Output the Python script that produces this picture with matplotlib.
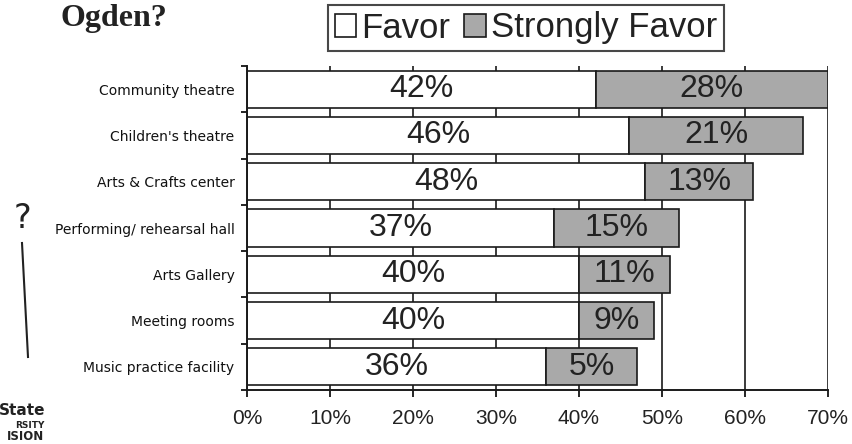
import matplotlib
matplotlib.use("Agg")
import matplotlib.pyplot as plt
from matplotlib.patches import Patch
from matplotlib.lines import Line2D

categories = [
    "Community theatre",
    "Children's theatre",
    "Arts & Crafts center",
    "Performing/ rehearsal hall",
    "Arts Gallery",
    "Meeting rooms",
    "Music practice facility",
]
favor = [42, 46, 48, 37, 40, 40, 36]
# bar lengths as drawn in the original
strongly = [28, 21, 13, 15, 11, 9, 11]
# values printed on the bars (music practice reads 5% on an 11% bar)
strongly_printed = [28, 21, 13, 15, 11, 9, 5]
x_ticks = [0, 10, 20, 30, 40, 50, 60, 70]

W, H = 852, 444
fig = plt.figure(figsize=(W / 100, H / 100), dpi=100)
ax = fig.add_axes([247 / W, 54 / H, (828 - 247) / W, (390 - 66) / H])

ypos = list(range(len(categories)))
bar_h = 0.8
ax.barh(ypos, favor, height=bar_h, color="white", edgecolor="#1a1a1a",
        linewidth=1.2, zorder=2)
ax.barh(ypos, strongly, left=favor, height=bar_h, color="#a9a9a9",
        edgecolor="#1a1a1a", linewidth=1.2, zorder=2)

for y, f, s, sp in zip(ypos, favor, strongly, strongly_printed):
    ax.text(f / 2, y, f"{f}%", ha="center", va="center", fontsize=23,
            family="Liberation Sans", color="#222222", zorder=3)
    ax.text(f + s / 2, y, f"{sp}%", ha="center", va="center", fontsize=23,
            family="Liberation Sans", color="#222222", zorder=3)

ax.set_xlim(0, 70)
ax.set_ylim(len(categories) - 0.5, -0.5)
ax.set_xticks(x_ticks)
ax.set_xticklabels([f"{t}%" for t in x_ticks], fontsize=15,
                   family="Liberation Sans", color="#222222")
ax.set_yticks(ypos)
ax.set_yticklabels(categories, fontsize=10, family="DejaVu Sans",
                   color="#111111")
ax.set_yticks([y - 0.5 for y in range(len(categories) + 1)], minor=True)
ax.tick_params(axis="y", which="major", length=0, pad=9)
ax.tick_params(axis="y", which="minor", length=4, width=1.2, direction="out")
ax.tick_params(axis="x", length=5, width=1.2, direction="out", pad=9)

ax.grid(axis="x", color="#1a1a1a", linewidth=1.2)
ax.set_axisbelow(True)
for side in ("top", "right"):
    ax.spines[side].set_visible(False)
for side in ("left", "bottom"):
    ax.spines[side].set_linewidth(1.4)
    ax.spines[side].set_color("#1a1a1a")

# title fragment
fig.text(60 / W, 1 - 4 / H, "Ogden?", ha="left", va="top", fontsize=23,
         family="Liberation Serif", weight="bold", color="#222222")

handles = [Patch(facecolor="white", edgecolor="#1a1a1a", linewidth=1.2),
           Patch(facecolor="#a9a9a9", edgecolor="#1a1a1a", linewidth=1.2)]
leg = fig.legend(handles, ["Favor", "Strongly Favor"], loc="center",
                 bbox_to_anchor=(526 / W, 1 - 28 / H), ncol=2,
                 prop={"family": "Liberation Sans", "size": 25},
                 handlelength=0.62, handleheight=0.62, handletextpad=0.15,
                 columnspacing=0.4, borderpad=0.2, borderaxespad=0,
                 fancybox=False, frameon=True)
leg.get_frame().set_edgecolor("#1a1a1a")
leg.get_frame().set_linewidth(1.5)
for t in leg.get_texts():
    t.set_color("#222222")

# handwritten mark on the left margin
fig.text(22 / W, 1 - 218 / H, "?", ha="center", va="center", fontsize=24,
         family="DejaVu Sans", color="#222222")
fig.add_artist(Line2D([22 / W, 28 / W], [1 - 243 / H, 1 - 357 / H],
                      transform=fig.transFigure, color="#222222", lw=1.5))

# cut-off logo at the bottom left
fig.text(45 / W, 1 - 410 / H, "State", ha="right", va="center", fontsize=11,
         family="DejaVu Sans", weight="bold", color="#222222")
fig.text(44 / W, 1 - 425 / H, "RSITY", ha="right", va="center", fontsize=6.5,
         family="DejaVu Sans", weight="bold", color="#222222")
fig.text(44 / W, 1 - 436 / H, "ISION", ha="right", va="center", fontsize=8.5,
         family="DejaVu Sans", weight="bold", color="#222222")

fig.savefig("out.png", dpi=100)
